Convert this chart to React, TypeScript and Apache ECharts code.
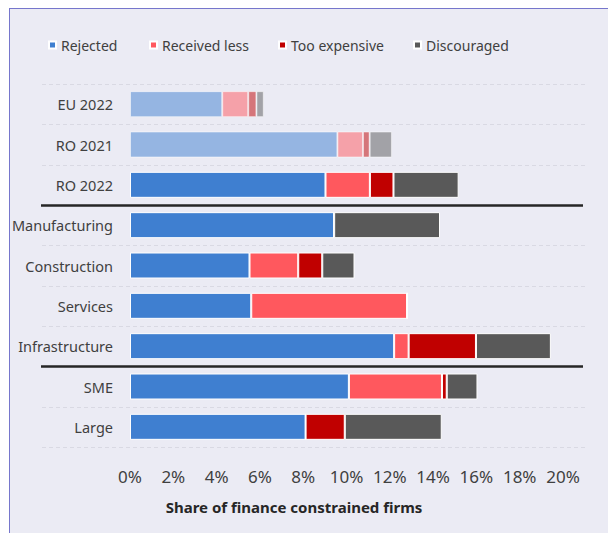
import React, { useEffect, useRef } from "react";
import * as echarts from "echarts";

const categories = [
  "EU 2022",
  "RO 2021",
  "RO 2022",
  "Manufacturing",
  "Construction",
  "Services",
  "Infrastructure",
  "SME",
  "Large",
];
const rejected = [4.26, 9.58, 9.03, 9.43, 5.52, 5.6, 12.2, 10.11, 8.11];
const receivedLess = [1.2, 1.18, 2.05, 0, 2.25, 7.2, 0.67, 4.3, 0];
const tooExpensive = [0.38, 0.31, 1.09, 0, 1.11, 0, 3.11, 0.22, 1.81];
const discouraged = [0.34, 1.03, 3.01, 4.89, 1.49, 0, 3.46, 1.42, 4.48];
const fadedRows = [0, 1];
const separatorAfter = [2, 6];
const xTicks = { min: 0, max: 20, interval: 2 };

const seriesDefs = [
  { name: "Rejected", values: rejected, color: "#3f7fd0", legendLeft: 33 },
  { name: "Received less", values: receivedLess, color: "#ff585e", legendLeft: 134 },
  { name: "Too expensive", values: tooExpensive, color: "#c00000", legendLeft: 263 },
  { name: "Discouraged", values: discouraged, color: "#595959", legendLeft: 398 },
];

const FONT = "'Noto Sans', 'Open Sans', sans-serif";

export default function App() {
  const ref = useRef<HTMLDivElement>(null);
  useEffect(() => {
    document.body.style.margin = "0";
    document.body.style.overflow = "hidden";
    if (!ref.current) return;
    const chart = echarts.init(ref.current, undefined, { renderer: "svg" });

    // boundary lines: [x, categoryIndex, side(-1 top / +1 bottom), solid(0/1)]
    const boundaries: number[][] = [];
    for (let k = 0; k < categories.length; k++) {
      boundaries.push([0, k, -1, separatorAfter.includes(k - 1) ? 1 : 0]);
    }
    boundaries.push([0, categories.length - 1, 1, 0]);

    const bars = seriesDefs.map((s) => ({
      name: s.name,
      type: "bar",
      stack: "total",
      barWidth: 26,
      itemStyle: { color: s.color, borderColor: "#ffffff", borderWidth: 1 },
      data: s.values.map((v, i) =>
        fadedRows.includes(i) ? { value: v, itemStyle: { opacity: 0.5 } } : v
      ),
      z: 3,
    }));

    chart.setOption({
      animation: false,
      backgroundColor: "#ebebf4",
      textStyle: { fontFamily: FONT },
      legend: seriesDefs.map((s) => ({
        data: [s.name],
        left: s.legendLeft,
        top: 21,
        itemWidth: 7,
        itemHeight: 7,
        icon: "rect",
        textStyle: { fontSize: 14, color: "#404040", fontFamily: FONT, lineHeight: 20 },
      })),
      grid: {
        left: 120,
        right: 45,
        top: 75,
        bottom: 86,
        containLabel: false,
        outerBoundsMode: "none",
      },
      xAxis: {
        type: "value",
        min: xTicks.min,
        max: xTicks.max,
        interval: xTicks.interval,
        axisLine: { show: false },
        axisTick: { show: false },
        splitLine: { show: false },
        axisLabel: {
          formatter: "{value}%",
          fontSize: 17,
          color: "#404040",
          margin: 21,
          fontFamily: FONT,
        },
      },
      yAxis: {
        type: "category",
        data: categories,
        inverse: true,
        axisLine: { show: false },
        axisTick: { show: false },
        splitLine: { show: false },
        axisLabel: { fontSize: 14.5, color: "#404040", margin: 17, fontFamily: FONT },
      },
      graphic: [
        {
          type: "text",
          x: 284,
          y: 498,
          style: {
            text: "Share of finance constrained firms",
            fontSize: 15,
            fontWeight: "bold",
            fill: "#262626",
            fontFamily: FONT,
            textAlign: "center",
            textVerticalAlign: "middle",
          },
        },
      ],
      series: [
        ...bars,
        {
          type: "custom",
          silent: true,
          clip: false,
          z: 1,
          encode: { x: 0, y: 1 },
          data: boundaries,
          renderItem: (params: any, api: any) => {
            const idx = api.value(1);
            const side = api.value(2);
            const solid = api.value(3) === 1;
            const c = api.coord([0, idx]);
            const band = api.size([0, 1])[1];
            const y = Math.round(c[1] + (side * band) / 2) + 0.5;
            const cs = params.coordSys;
            const x1 = cs.x - (solid ? 89 : 88);
            const x2 = cs.x + cs.width + (solid ? 20 : 22);
            return {
              type: "line",
              shape: { x1, y1: y, x2, y2: y },
              style: solid
                ? { stroke: "#262626", lineWidth: 2.5 }
                : { stroke: "#d9d9e3", lineWidth: 1, lineDash: [4, 3] },
              z2: solid ? 10 : 0,
            };
          },
        },
      ],
    });
    return () => chart.dispose();
  }, []);

  return (
    <div style={{ position: "relative", width: 608, height: 533, background: "#ffffff", overflow: "hidden" }}>
      <div
        style={{
          position: "absolute",
          left: 9,
          top: 8,
          width: 599,
          height: 525,
          borderLeft: "1px solid #7676cc",
          borderTop: "1px solid #7676cc",
          boxSizing: "border-box",
        }}
      >
        <div ref={ref} style={{ width: 598, height: 524 }} />
      </div>
    </div>
  );
}
